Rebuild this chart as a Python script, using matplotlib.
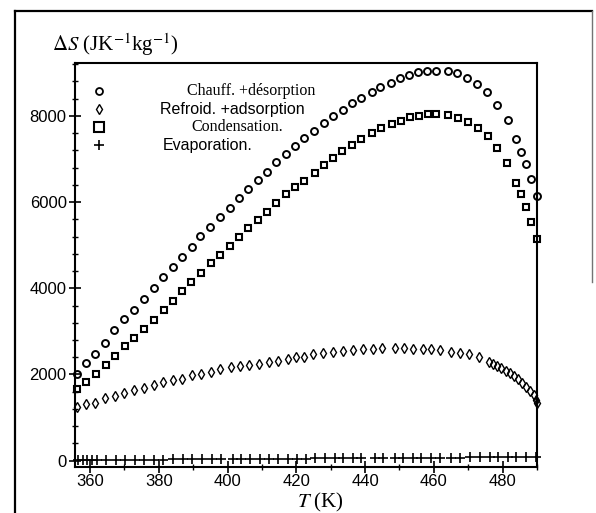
import matplotlib

matplotlib.use("Agg")
from matplotlib.pyplot import figure
from matplotlib.lines import Line2D
from matplotlib.ticker import MultipleLocator

# Chauff. +desorption (circles)
T_CHAUFF = [356.1, 358.8, 361.4, 364.3, 367.0, 369.9, 372.8, 375.7, 378.5, 381.3,
            384.0, 386.6, 389.5, 392.1, 395.0, 397.8, 400.7, 403.3, 406.0, 408.7,
            411.5, 414.2, 416.9, 419.6, 422.2, 425.1, 428.0, 430.7, 433.6, 436.3,
            438.9, 441.9, 444.3, 447.4, 450.1, 452.7, 455.4, 458.0, 460.7, 464.1,
            466.7, 469.6, 472.5, 475.6, 478.5, 481.5, 484.0, 485.3, 486.9, 488.4,
            489.9]
S_CHAUFF = [2010, 2260, 2470, 2730, 3025, 3280, 3500, 3745, 4000, 4270,
            4500, 4735, 4965, 5215, 5430, 5645, 5870, 6090, 6305, 6515,
            6705, 6925, 7110, 7290, 7480, 7655, 7840, 8000, 8135, 8290,
            8420, 8560, 8675, 8770, 8870, 8950, 9010, 9050, 9050, 9050,
            8990, 8870, 8735, 8560, 8260, 7900, 7455, 7160, 6880, 6545,
            6140]

# Refroid. +adsorption (diamonds)
T_REFROID = [356.1, 358.8, 361.4, 364.3, 367.2, 369.9, 372.8, 375.7, 378.6, 381.3,
             384.1, 386.6, 389.7, 392.3, 395.2, 397.8, 400.9, 403.6, 406.3, 409.2,
             411.9, 414.8, 417.5, 420.0, 422.2, 424.9, 427.8, 430.7, 433.6, 436.5,
             439.4, 442.3, 444.8, 448.6, 451.2, 453.9, 456.7, 459.3, 461.7, 465.1,
             467.6, 470.3, 473.2, 476.0, 477.2, 478.5, 479.6, 480.9, 482.1, 483.2,
             484.5, 485.7, 486.9, 488.1, 489.0, 489.8, 490.1]
S_REFROID = [1245, 1315, 1330, 1450, 1500, 1570, 1645, 1695, 1765, 1835,
             1870, 1905, 1980, 2020, 2065, 2130, 2180, 2195, 2225, 2250,
             2285, 2320, 2365, 2405, 2415, 2470, 2490, 2515, 2540, 2570,
             2585, 2585, 2610, 2610, 2610, 2600, 2600, 2600, 2570, 2530,
             2500, 2470, 2395, 2285, 2245, 2195, 2145, 2090, 2030, 1965,
             1890, 1795, 1715, 1625, 1525, 1410, 1330]

# Condensation (squares)
T_COND = [356.1, 358.8, 361.6, 364.5, 367.2, 370.1, 372.9, 375.7, 378.6, 381.4,
          384.2, 386.7, 389.4, 392.2, 395.1, 397.8, 400.7, 403.3, 406.0, 408.7,
          411.5, 414.2, 417.1, 419.6, 422.3, 425.4, 428.0, 430.7, 433.4, 436.3,
          438.9, 441.9, 444.6, 447.7, 450.3, 453.0, 455.7, 458.3, 460.7, 464.1,
          467.0, 469.9, 472.8, 475.7, 478.5, 481.4, 484.0, 485.3, 486.9, 488.2,
          489.9]
S_COND = [1655, 1825, 2005, 2220, 2435, 2660, 2845, 3055, 3270, 3495,
          3710, 3945, 4150, 4365, 4580, 4775, 4990, 5185, 5390, 5585,
          5765, 5985, 6180, 6355, 6495, 6670, 6860, 7015, 7195, 7325,
          7465, 7610, 7710, 7810, 7890, 7970, 8000, 8035, 8035, 8020,
          7960, 7865, 7725, 7540, 7250, 6915, 6450, 6195, 5880, 5545,
          5135]

# Evaporation (plus)
T_EVAP = [356.5, 358.0, 359.1, 360.5, 362.0, 364.6, 367.4, 370.1, 373.0, 375.7,
          378.6, 381.3, 384.2, 386.9, 389.7, 392.6, 395.4, 398.0, 401.6, 403.8,
          406.5, 409.4, 412.1, 414.8, 417.6, 420.2, 422.7, 425.4, 428.3, 431.2,
          433.6, 436.5, 438.9, 442.8, 445.2, 448.6, 451.0, 453.9, 456.4, 459.3,
          461.7, 465.1, 467.5, 470.4, 473.3, 476.2, 478.7, 481.6, 484.0, 486.9,
          489.8]
S_EVAP = [10, 10, 12, 12, 15, 15, 18, 20, 20, 22,
          25, 25, 28, 30, 30, 32, 35, 35, 38, 40,
          40, 42, 45, 45, 48, 50, 50, 52, 55, 55,
          58, 60, 60, 62, 62, 65, 65, 68, 68, 70,
          70, 72, 72, 75, 75, 78, 78, 80, 80, 82,
          85]

LABELS = ["Chauff. +désorption", "Refroid. +adsorption", "Condensation.", "Evaporation."]

matplotlib.rcParams["mathtext.fontset"] = "stix"
SERIF = "Liberation Serif"
SANS = "Liberation Sans"

fig = figure(figsize=(5.96, 5.13), dpi=100)
ax = fig.add_axes([0.1258, 0.0897, 0.7752, 0.7875])

common = dict(linestyle="none", color="black", clip_on=False, zorder=3)
ax.plot(T_EVAP, S_EVAP, marker="+", markersize=6.5, markeredgewidth=1.2, **common)
ax.plot(T_REFROID, S_REFROID, marker="d", markersize=5, markerfacecolor="none",
        markeredgewidth=1.0, **common)
ax.plot(T_COND, S_COND, marker="s", markersize=4.5, markerfacecolor="none",
        markeredgewidth=1.5, **common)
ax.plot(T_CHAUFF, S_CHAUFF, marker="o", markersize=5, markerfacecolor="none",
        markeredgewidth=1.4, **common)

ax.set_xlim(355.6, 490.0)
ax.set_ylim(-146, 9227)
ax.xaxis.set_major_locator(MultipleLocator(20))
ax.xaxis.set_minor_locator(MultipleLocator(10))
ax.yaxis.set_major_locator(MultipleLocator(2000))
ax.yaxis.set_minor_locator(MultipleLocator(400))
ax.tick_params(which="major", direction="inout", length=8, width=1.2,
               labelsize=12, top=False, right=False, pad=2)
ax.tick_params(which="minor", direction="inout", length=4, width=1.0,
               top=False, right=False)
ax.tick_params(axis="x", which="major", pad=1)
for lab in ax.get_xticklabels() + ax.get_yticklabels():
    lab.set_fontfamily(SANS)
for sp in ax.spines.values():
    sp.set_linewidth(1.5)

# Legend drawn by hand (mixed fonts as in the original)
markers = [("o", 5, 1.3), ("d", 5, 1.0), ("s", 7, 1.5), ("+", 6.5, 1.2)]
ys = [0.931, 0.886, 0.842, 0.797]
xs_text = [0.382, 0.340, 0.351, 0.288]
fams = [SERIF, SANS, SERIF, SANS]
for (m, ms, mew), y, xt, fam, lab in zip(markers, ys, xs_text, fams, LABELS):
    ax.plot([0.052], [y], marker=m, markersize=ms, markeredgewidth=mew,
            markerfacecolor="none", color="black", linestyle="none",
            transform=ax.transAxes)
    ax.text(xt, y, lab, transform=ax.transAxes, ha="center", va="center",
            fontsize=11.5, family=fam)

fig.text(52 / 596, 1 - 45 / 513, r"$\Delta S$ (JK$^{-1}$kg$^{-1}$)",
         ha="left", va="center", fontsize=15, family=SERIF)
fig.text(320 / 596, 1 - 502 / 513, r"$T$ (K)", ha="center", va="center",
         fontsize=15, family=SERIF)

# page frame around the figure
fl, ft, fr = 15 / 596, 1 - 11 / 513, 592 / 596
fig.add_artist(Line2D([fl, fl], [0, ft], transform=fig.transFigure, color="black", lw=1.6))
fig.add_artist(Line2D([fl, fr], [ft, ft], transform=fig.transFigure, color="black", lw=1.6))
fig.add_artist(Line2D([fr, fr], [ft, 0.45], transform=fig.transFigure, color="0.45", lw=1.0))

fig.savefig("out.png", dpi=100)
